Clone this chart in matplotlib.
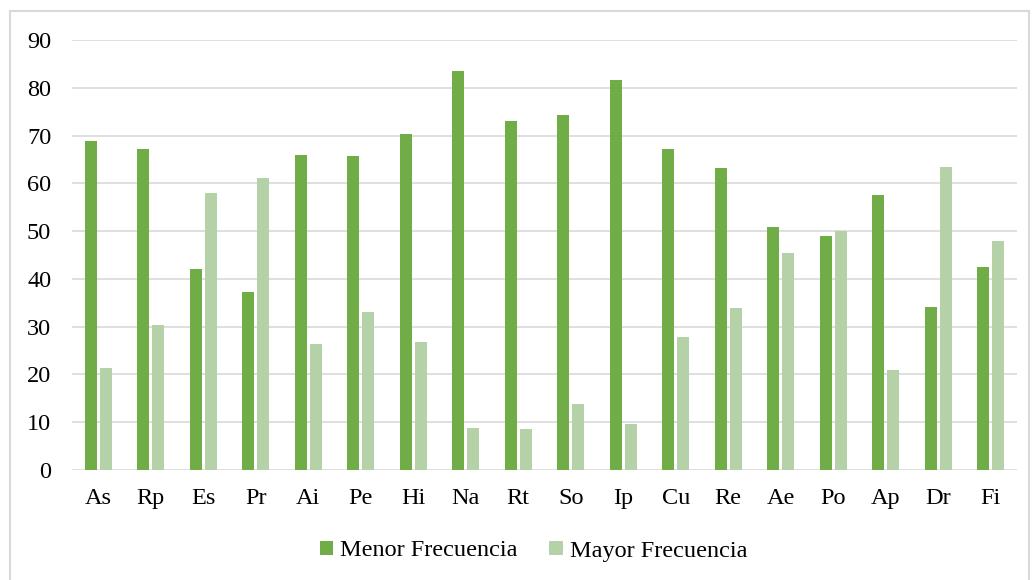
import matplotlib
matplotlib.use("Agg")
from matplotlib import pyplot as plt
from matplotlib.patches import Rectangle
import numpy as np

# categorías y valores
categorias = ["As", "Rp", "Es", "Pr", "Ai", "Pe", "Hi", "Na", "Rt", "So",
              "Ip", "Cu", "Re", "Ae", "Po", "Ap", "Dr", "Fi"]
menor = [68.8, 67.2, 42.0, 37.3, 66.0, 65.7, 70.3, 83.6, 73.1, 74.2,
         81.6, 67.2, 63.3, 50.9, 49.0, 57.5, 34.2, 42.4]
mayor = [21.3, 30.3, 58.0, 61.1, 26.4, 33.1, 26.8, 8.8, 8.5, 13.9,
         9.7, 27.9, 33.9, 45.5, 50.1, 20.9, 63.4, 47.9]

plt.rcParams['font.family'] = ['Liberation Serif', 'DejaVu Serif']

fig = plt.figure(figsize=(10.32, 5.80), dpi=100)
ax = fig.add_axes([72 / 1032, 1 - 470 / 580, 945 / 1032, 430 / 580])

x = np.arange(len(categorias))
w = 0.23
ax.bar(x - w / 2 - 0.03, menor, w, color="#70AD47", label="Menor Frecuencia", zorder=3)
ax.bar(x + w / 2 + 0.03, mayor, w, color="#B4D1A7", label="Mayor Frecuencia", zorder=3)

ax.set_xlim(-0.5, len(categorias) - 0.5)
ax.set_ylim(0, 90)
ax.set_yticks(np.arange(0, 91, 10))
ax.set_xticks(x)
ax.set_xticklabels(categorias)
ax.yaxis.grid(True, color="#D9D9D9", linewidth=1.2, zorder=0)
for s in ax.spines.values():
    s.set_visible(False)
ax.tick_params(axis="both", length=0, labelsize=17.5, colors="black")
ax.tick_params(axis="y", pad=15)
ax.tick_params(axis="x", pad=13)

leg = fig.legend(loc="center", bbox_to_anchor=(0.517, 1 - 551 / 580), ncol=2,
                 frameon=False, fontsize=17.5, handlelength=0.55, handleheight=0.55,
                 handletextpad=0.3, columnspacing=1.3)

# marco del gráfico
fig.patches.append(Rectangle((10 / 1032, -0.05), 1019 / 1032, 1.05 - 11 / 580,
                             transform=fig.transFigure, fill=False,
                             edgecolor="#D9D9D9", linewidth=1.5))

plt.savefig("out.png", dpi=100)
